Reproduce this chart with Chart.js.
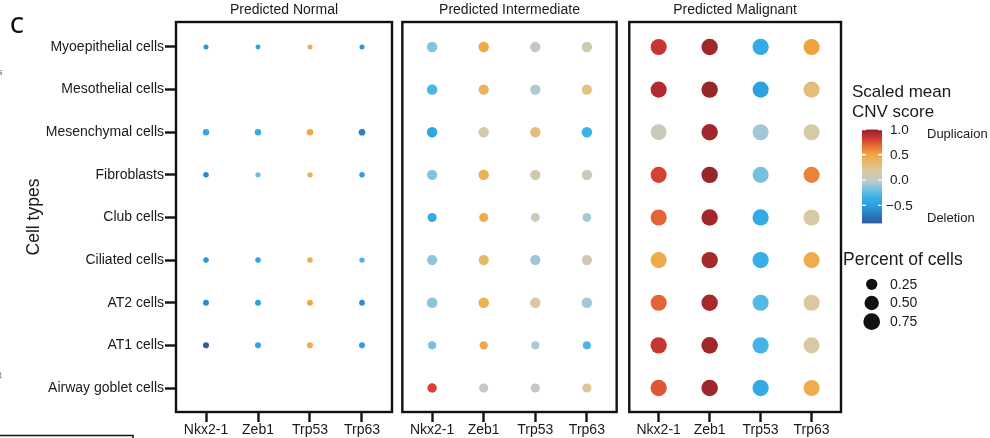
<!DOCTYPE html>
<html>
<head>
<meta charset="utf-8">
<script src="https://cdn.jsdelivr.net/npm/chart.js@4/dist/chart.umd.min.js"></script>
<style>
  body { margin: 0; background: #fff; }
  #wrap { position: relative; width: 990px; height: 438px; overflow: hidden; }
  canvas { position: absolute; top: 0; }
</style>
</head>
<body>
<div id="wrap">
  <canvas id="c1" width="397" height="438" style="left:0"></canvas>
  <canvas id="c2" width="225" height="438" style="left:397px"></canvas>
  <canvas id="c3" width="369" height="438" style="left:621px"></canvas>
</div>
<script>
const cellTypes = ['Myoepithelial cells', 'Mesothelial cells', 'Mesenchymal cells', 'Fibroblasts',
  'Club cells', 'Ciliated cells', 'AT2 cells', 'AT1 cells', 'Airway goblet cells'];
const genes = ['Nkx2-1', 'Zeb1', 'Trp53', 'Trp63'];
const panelTitles = ['Predicted Normal', 'Predicted Intermediate', 'Predicted Malignant'];

// scaled mean CNV score, rows = cellTypes, cols = genes (null = no cells)
const normalScore = [
  [-0.55, -0.45, 0.45, -0.55],
  null,
  [-0.40, -0.40, 0.50, -0.65],
  [-0.60, -0.20, 0.45, -0.50],
  null,
  [-0.55, -0.45, 0.45, -0.30],
  [-0.60, -0.50, 0.50, -0.60],
  [-0.85, -0.45, 0.45, -0.50],
  null
];
const intermediateScore = [
  [-0.15, 0.48, 0.02, 0.10],
  [-0.30, 0.40, -0.05, 0.27],
  [-0.45, 0.12, 0.30, -0.33],
  [-0.15, 0.42, 0.12, 0.06],
  [-0.40, 0.46, 0.06, -0.07],
  [-0.13, 0.36, -0.10, 0.10],
  [-0.13, 0.42, 0.18, -0.08],
  [-0.18, 0.50, -0.06, -0.30],
  [0.80, 0.02, 0.02, 0.22]
];
const malignantScore = [
  [0.85, 0.97, -0.40, 0.52],
  [0.92, 1.00, -0.50, 0.30],
  [0.05, 0.97, -0.08, 0.16],
  [0.80, 1.00, -0.18, 0.62],
  [0.70, 0.97, -0.40, 0.16],
  [0.47, 0.95, -0.37, 0.45],
  [0.70, 0.95, -0.27, 0.18],
  [0.85, 0.97, -0.32, 0.16],
  [0.74, 0.98, -0.40, 0.46]
];

// percent of cells
const normalPct = [
  [0.006, 0.005, 0.006, 0.006],
  null,
  [0.030, 0.030, 0.030, 0.035],
  [0.012, 0.008, 0.010, 0.012],
  null,
  [0.012, 0.012, 0.012, 0.010],
  [0.018, 0.018, 0.018, 0.016],
  [0.020, 0.020, 0.020, 0.020],
  null
];
const intermediatePct = [
  [0.20, 0.20, 0.19, 0.19],
  [0.20, 0.19, 0.19, 0.19],
  [0.20, 0.19, 0.19, 0.20],
  [0.19, 0.20, 0.19, 0.19],
  [0.12, 0.12, 0.11, 0.11],
  [0.18, 0.18, 0.18, 0.18],
  [0.21, 0.21, 0.20, 0.20],
  [0.08, 0.09, 0.08, 0.08],
  [0.14, 0.13, 0.13, 0.13]
];
const malignantPct = [
  [0.68, 0.72, 0.70, 0.68],
  [0.68, 0.72, 0.68, 0.68],
  [0.66, 0.72, 0.68, 0.68],
  [0.68, 0.72, 0.68, 0.68],
  [0.68, 0.72, 0.70, 0.68],
  [0.68, 0.72, 0.70, 0.68],
  [0.68, 0.72, 0.68, 0.68],
  [0.70, 0.73, 0.70, 0.68],
  [0.70, 0.73, 0.70, 0.68]
];

const colorbarTicks = [1.0, 0.5, 0.0, -0.5];
const sizeBreaks = [0.25, 0.50, 0.75];

const FAMILY = '"Liberation Sans", Arial, sans-serif';
const INK = '#1a1a1a';

// colour ramp for the CNV score
const CNV_STOPS = [
  [-0.86, [46, 90, 160]],
  [-0.65, [40, 130, 200]],
  [-0.50, [44, 160, 224]],
  [-0.35, [56, 176, 232]],
  [-0.20, [110, 192, 226]],
  [-0.05, [176, 202, 210]],
  [0.05, [200, 202, 188]],
  [0.20, [220, 200, 156]],
  [0.35, [232, 184, 108]],
  [0.50, [240, 168, 64]],
  [0.65, [232, 120, 56]],
  [0.80, [216, 64, 52]],
  [0.90, [184, 44, 48]],
  [1.00, [150, 38, 40]]
];

function cnvColor(v) {
  if (v <= CNV_STOPS[0][0]) return rgb(CNV_STOPS[0][1]);
  for (let i = 1; i < CNV_STOPS.length; i++) {
    const [v1, c1] = CNV_STOPS[i];
    if (v <= v1) {
      const [v0, c0] = CNV_STOPS[i - 1];
      const t = (v - v0) / (v1 - v0);
      return rgb(c0.map((c, k) => c + (c1[k] - c) * t));
    }
  }
  return rgb(CNV_STOPS[CNV_STOPS.length - 1][1]);
}
function rgb(c) { return 'rgb(' + c.map(Math.round).join(',') + ')'; }

// dot radius in px from percent of cells
function radius(p) { return 1.96 + 7.38 * Math.sqrt(p); }

function bubbles(scores, pcts) {
  const out = [];
  scores.forEach((row, ri) => {
    if (!row) return;
    row.forEach((s, gi) => out.push({ x: gi, y: ri, r: radius(pcts[ri][gi]), s: s }));
  });
  return out;
}

const panelBox = {
  id: 'panelBox',
  afterDatasetsDraw(chart) {
    const a = chart.chartArea, ctx = chart.ctx;
    ctx.save();
    ctx.strokeStyle = '#111';
    ctx.lineWidth = 2.4;
    ctx.strokeRect(a.left, a.top, a.right - a.left, a.bottom - a.top);
    ctx.restore();
  }
};

// panel letter and the slivers of the neighbouring figure on the left edge
const figureMarks = {
  id: 'figureMarks',
  afterDraw(chart) {
    const ctx = chart.ctx;
    ctx.save();
    ctx.fillStyle = '#111';
    ctx.font = '600 22px "Open Sans", Arial, sans-serif';
    ctx.textBaseline = 'alphabetic';
    ctx.textAlign = 'left';
    ctx.fillText('C', 10, 33);
    ctx.fillStyle = '#666';
    ctx.font = '9px ' + FAMILY;
    ctx.fillText('s', -2, 75);
    ctx.fillText('t', -1, 378);
    ctx.strokeStyle = '#111';
    ctx.lineWidth = 1.5;
    ctx.beginPath();
    ctx.moveTo(0, 435.5);
    ctx.lineTo(133, 435.5);
    ctx.lineTo(133, 440);
    ctx.stroke();
    ctx.restore();
  }
};

const cnvLegend = {
  id: 'cnvLegend',
  afterDraw(chart) {
    const ctx = chart.ctx;
    ctx.save();
    ctx.translate(-621, 0);
    ctx.fillStyle = INK;
    ctx.textAlign = 'left';
    ctx.textBaseline = 'alphabetic';
    ctx.font = '17px ' + FAMILY;
    ctx.fillText('Scaled mean', 852, 96.5);
    ctx.fillText('CNV score', 852, 116.5);

    const bx = 862, bw = 20, vTop = 1.0, vBot = -0.856, yTop = 129.5, perUnit = 50.6;
    const yOf = v => yTop + (vTop - v) * perUnit;
    const g = ctx.createLinearGradient(0, yOf(vTop), 0, yOf(vBot));
    CNV_STOPS.forEach(([v, c]) => {
      const t = Math.min(1, Math.max(0, (vTop - v) / (vTop - vBot)));
      g.addColorStop(t, rgb(c));
    });
    ctx.fillStyle = g;
    ctx.fillRect(bx, yOf(vTop), bw, yOf(vBot) - yOf(vTop));

    ctx.strokeStyle = '#fff';
    ctx.lineWidth = 1.4;
    colorbarTicks.forEach(v => {
      const y = yOf(v);
      ctx.beginPath();
      ctx.moveTo(bx, y); ctx.lineTo(bx + 4, y);
      ctx.moveTo(bx + bw - 4, y); ctx.lineTo(bx + bw, y);
      ctx.stroke();
    });

    ctx.fillStyle = INK;
    ctx.font = '13.5px ' + FAMILY;
    ctx.textBaseline = 'middle';
    colorbarTicks.forEach(v => {
      const label = v.toFixed(1).replace('-', '\u2212');
      ctx.fillText(label, v < 0 ? 886 : 890, yOf(v) + 0.5);
    });
    ctx.font = '13px ' + FAMILY;
    ctx.fillText('Duplicaion', 927, 134);
    ctx.fillText('Deletion', 927, 218);

    ctx.textBaseline = 'alphabetic';
    ctx.font = '17.5px ' + FAMILY;
    ctx.fillText('Percent of cells', 843, 265);
    ctx.font = '14px ' + FAMILY;
    ctx.textBaseline = 'middle';
    sizeBreaks.forEach((p, i) => {
      const y = 284.3 + i * 18.7;
      ctx.fillStyle = '#111';
      ctx.beginPath();
      ctx.arc(871.7, y, radius(p), 0, Math.PI * 2);
      ctx.fill();
      ctx.fillStyle = INK;
      ctx.fillText(p.toFixed(2), 890, y + 0.5);
    });
    ctx.restore();
  }
};

Chart.defaults.font.family = FAMILY;
Chart.defaults.color = INK;

function makePanel(id, title, scores, pcts, opts) {
  return new Chart(document.getElementById(id), {
    type: 'bubble',
    data: {
      datasets: [{
        data: bubbles(scores, pcts),
        backgroundColor: ctx => cnvColor(ctx.raw.s),
        borderWidth: 0
      }]
    },
    options: {
      responsive: false,
      animation: false,
      devicePixelRatio: 1,
      events: [],
      layout: { padding: opts.padding },
      plugins: {
        legend: { display: false },
        tooltip: { enabled: false },
        title: {
          display: true,
          text: title,
          fullSize: false,
          color: INK,
          font: { size: 14, weight: 'normal' },
          padding: { top: 2, bottom: 3.2 }
        }
      },
      scales: {
        x: {
          type: 'linear',
          min: -0.577,
          max: 3.577,
          afterBuildTicks: s => { s.ticks = genes.map((g, i) => ({ value: i })); },
          afterFit: s => { s.height = 26; },
          ticks: {
            callback: v => genes[v],
            font: { size: 14 },
            color: INK,
            padding: 0,
            maxRotation: 0,
            autoSkip: false
          },
          grid: { drawOnChartArea: false, drawTicks: true, tickLength: 10, tickWidth: 2.4, tickColor: '#111' },
          border: { display: false }
        },
        y: {
          type: 'linear',
          reverse: true,
          min: -0.586,
          max: 8.563,
          display: opts.showY,
          afterBuildTicks: s => { s.ticks = cellTypes.map((c, i) => ({ value: i })); },
          afterFit: s => { s.width = opts.showY ? 176 : 0; },
          ticks: {
            callback: v => cellTypes[v],
            font: { size: 14 },
            color: INK,
            padding: 1,
            autoSkip: false
          },
          grid: { drawOnChartArea: false, drawTicks: true, tickLength: 11, tickWidth: 2.4, tickColor: '#111' },
          border: { display: false },
          title: {
            display: true,
            text: 'Cell types',
            color: INK,
            font: { size: 17.5 },
            padding: { top: 23.5, bottom: 0 }
          }
        }
      }
    },
    plugins: [panelBox].concat(opts.plugins || [])
  });
}

makePanel('c1', panelTitles[0], normalScore, normalPct,
  { showY: true, padding: { left: 0, right: 5, top: 0, bottom: 0 }, plugins: [figureMarks] });
makePanel('c2', panelTitles[1], intermediateScore, intermediatePct,
  { showY: false, padding: { left: 4, right: 4.5, top: 0, bottom: 0 } });
makePanel('c3', panelTitles[2], malignantScore, malignantPct,
  { showY: false, padding: { left: 4, right: 149, top: 0, bottom: 0 }, plugins: [cnvLegend] });
</script>
</body>
</html>
